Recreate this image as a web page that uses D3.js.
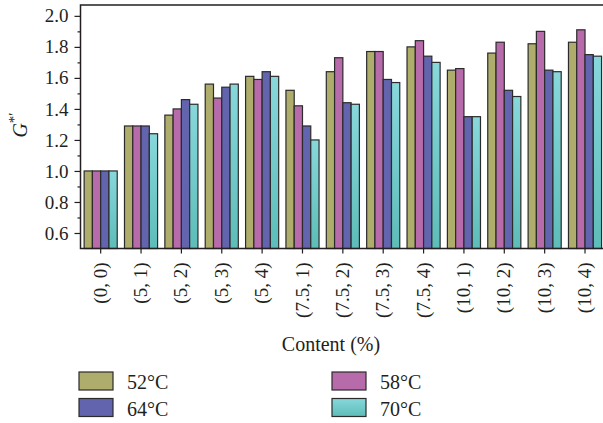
<!DOCTYPE html>
<html>
<head>
<meta charset="utf-8">
<script src="https://cdn.jsdelivr.net/npm/d3@7"></script>
<style>
  html, body { margin: 0; padding: 0; background: #fff; }
  svg { display: block; }
  text { font-family: "Liberation Serif", "Times New Roman", serif; fill: #231f20; }
</style>
</head>
<body>
<svg id="chart" width="603" height="423"></svg>
<script>
// Normalised modulus G*' by additive content and test temperature
const categories = ["(0, 0)", "(5, 1)", "(5, 2)", "(5, 3)", "(5, 4)", "(7.5, 1)", "(7.5, 2)",
                    "(7.5, 3)", "(7.5, 4)", "(10, 1)", "(10, 2)", "(10, 3)", "(10, 4)"];
const seriesNames = ["52°C", "58°C", "64°C", "70°C"];
const t52 = [1.00, 1.29, 1.36, 1.56, 1.61, 1.52, 1.64, 1.77, 1.80, 1.65, 1.76, 1.82, 1.83];
const t58 = [1.00, 1.29, 1.40, 1.47, 1.59, 1.42, 1.73, 1.77, 1.84, 1.66, 1.83, 1.90, 1.91];
const t64 = [1.00, 1.29, 1.46, 1.54, 1.64, 1.29, 1.44, 1.59, 1.74, 1.35, 1.52, 1.65, 1.75];
const t70 = [1.00, 1.24, 1.43, 1.56, 1.61, 1.20, 1.43, 1.57, 1.70, 1.35, 1.48, 1.64, 1.74];
const yMajorTicks = [0.6, 0.8, 1.0, 1.2, 1.4, 1.6, 1.8, 2.0];
const yMinorTicks = [0.7, 0.9, 1.1, 1.3, 1.5, 1.7, 1.9];

const seriesValues = [t52, t58, t64, t70];
const fills = ["#aead6b", "#b86bab", "#6264ae", "url(#cyanGrad)"];

const rows = categories.map((c, i) => ({
  cat: c,
  vals: seriesNames.map((s, k) => ({ key: s, k, v: seriesValues[k][i] }))
}));

const svg = d3.select("#chart");
const defs = svg.append("defs");
const grad = defs.append("linearGradient").attr("id", "cyanGrad")
  .attr("x1", 0).attr("y1", 0).attr("x2", 0).attr("y2", 1);
grad.append("stop").attr("offset", "0%").attr("stop-color", "#88d7db");
grad.append("stop").attr("offset", "100%").attr("stop-color", "#5dbdb8");

const plotLeft = 80.5, plotRight = 605.2, plotTop = 5, plotBottom = 248.5;

const x0 = d3.scaleBand().domain(categories).range([plotLeft, plotRight])
  .paddingInner(0.18).paddingOuter(0.09);
const x1 = d3.scaleBand().domain(seriesNames).range([0, x0.bandwidth()]).padding(0);
const y = d3.scaleLinear().domain([0.5, 2.07]).range([plotBottom, plotTop]);

// bars
const groups = svg.append("g").selectAll("g").data(rows).join("g")
  .attr("transform", d => `translate(${x0(d.cat)},0)`);
groups.selectAll("rect").data(d => d.vals).join("rect")
  .attr("x", d => x1(d.key))
  .attr("y", d => y(d.v))
  .attr("width", x1.bandwidth())
  .attr("height", d => y(0.5) - y(d.v))
  .attr("fill", d => fills[d.k])
  .attr("stroke", "#2b2b2b")
  .attr("stroke-width", 1.2);

// frame
svg.append("rect")
  .attr("x", plotLeft).attr("y", plotTop)
  .attr("width", plotRight - plotLeft + 3).attr("height", plotBottom - plotTop)
  .attr("fill", "none").attr("stroke", "#231f20").attr("stroke-width", 1.5);

// y axis: major + minor ticks
const yAxis = svg.append("g").attr("transform", `translate(${plotLeft},0)`)
  .call(d3.axisLeft(y).tickValues(yMajorTicks).tickFormat(d3.format(".1f"))
    .tickSize(6).tickPadding(6));
yAxis.select(".domain").remove();
yAxis.selectAll("line").attr("stroke", "#231f20").attr("stroke-width", 1.2);
yAxis.selectAll("text").attr("font-size", 19).attr("fill", "#231f20")
  .style("font-family", "'Liberation Serif', serif");

const yMinor = svg.append("g").attr("transform", `translate(${plotLeft},0)`)
  .call(d3.axisLeft(y).tickValues(yMinorTicks).tickFormat("").tickSize(3));
yMinor.select(".domain").remove();
yMinor.selectAll("line").attr("stroke", "#231f20").attr("stroke-width", 1.2);

// x axis
const xAxis = svg.append("g").attr("transform", `translate(0,${plotBottom})`)
  .call(d3.axisBottom(x0).tickSize(5).tickPadding(0));
xAxis.select(".domain").remove();
xAxis.selectAll("line").attr("stroke", "#231f20").attr("stroke-width", 1.2);
xAxis.selectAll("text")
  .attr("font-size", 19)
  .attr("fill", "#231f20")
  .style("font-family", "'Liberation Serif', serif")
  .attr("transform", "rotate(-90)")
  .attr("text-anchor", "end")
  .attr("x", -14)
  .attr("y", 0)
  .attr("dy", "0.32em");

// axis titles
svg.append("text")
  .attr("x", 331).attr("y", 351)
  .attr("text-anchor", "middle")
  .attr("font-size", 20)
  .text("Content (%)");

const yt = svg.append("text")
  .attr("transform", "translate(27,125) rotate(-90)")
  .attr("text-anchor", "middle")
  .attr("font-size", 20);
yt.append("tspan").attr("font-style", "italic").text("G");
yt.append("tspan").attr("font-size", 15).attr("dy", -8).text("*′");

// legend
const legendPos = [
  { x: 79, y: 372 }, { x: 332, y: 372 },
  { x: 79, y: 398.5 }, { x: 332, y: 398.5 }
];
const legend = svg.append("g").selectAll("g").data(seriesNames).join("g")
  .attr("transform", (d, i) => `translate(${legendPos[i].x},${legendPos[i].y})`);
legend.append("rect")
  .attr("width", 34).attr("height", 18)
  .attr("fill", (d, i) => fills[i])
  .attr("stroke", "#2b2b2b").attr("stroke-width", 1.2);
legend.append("text")
  .attr("x", 48).attr("y", 17)
  .attr("font-size", 20)
  .text(d => d);
</script>
</body>
</html>
